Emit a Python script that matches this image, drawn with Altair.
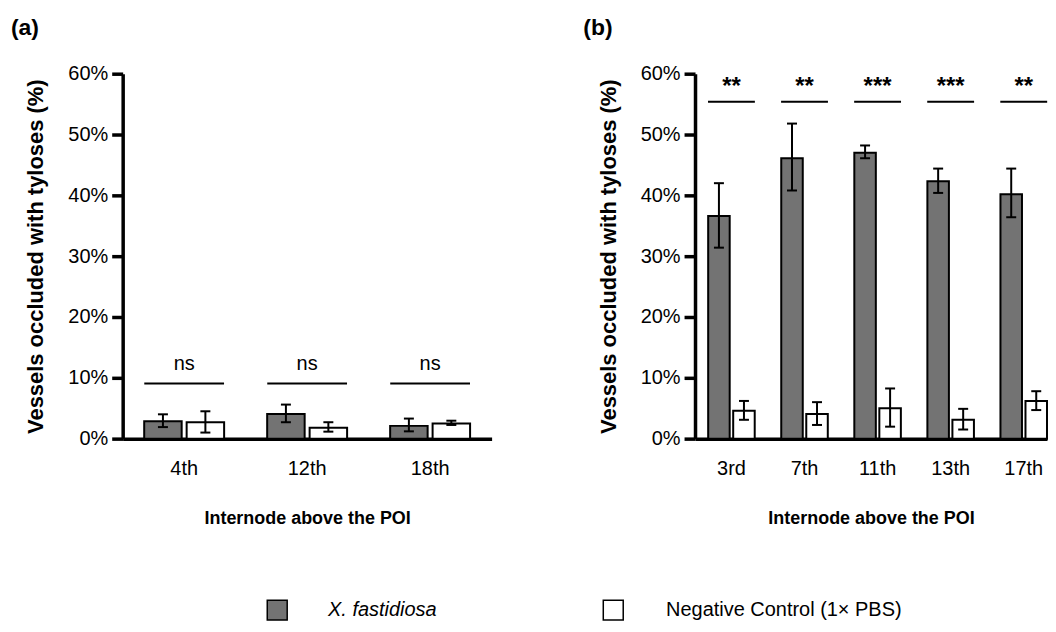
import altair as alt
import pandas as pd

# ---------------- data ----------------
series = ["X. fastidiosa", "Negative Control (1× PBS)"]
series_fill = ["#737373", "#ffffff"]

# Panel (a)
a_internodes = ["4th", "12th", "18th"]
a_xf_mean = [2.85, 4.05, 2.1]
a_xf_low = [1.9, 2.7, 1.2]
a_xf_high = [4.0, 5.6, 3.3]
a_ctrl_mean = [2.7, 1.8, 2.5]
a_ctrl_low = [1.0, 1.15, 2.25]
a_ctrl_high = [4.5, 2.7, 2.95]
a_sig = ["ns", "ns", "ns"]
a_sig_line = 9.05
a_sig_text = 11.3

# Panel (b)
b_internodes = ["3rd", "7th", "11th", "13th", "17th"]
b_xf_mean = [36.6, 46.1, 47.0, 42.3, 40.2]
b_xf_low = [31.4, 40.8, 46.1, 40.4, 36.4]
b_xf_high = [42.0, 51.8, 48.2, 44.4, 44.4]
b_ctrl_mean = [4.6, 4.05, 5.0, 3.1, 6.2]
b_ctrl_low = [3.1, 2.25, 1.97, 1.5, 4.7]
b_ctrl_high = [6.2, 6.0, 8.25, 4.9, 7.8]
b_sig = ["**", "**", "***", "***", "**"]
b_sig_line = 55.4
b_sig_text = 56.6

y_ticks = [0, 10, 20, 30, 40, 50, 60]

FONT = "Liberation Sans"


def long_table(internodes, xm, xl, xh, cm, cl, ch):
    rows = []
    for i, node in enumerate(internodes):
        rows.append({"internode": node, "series": series[0], "mean": xm[i], "low": xl[i], "high": xh[i]})
        rows.append({"internode": node, "series": series[1], "mean": cm[i], "low": cl[i], "high": ch[i]})
    return pd.DataFrame(rows)


def panel(internodes, table, sig, sig_line, sig_text, width, x_scale, off_pad,
          line_len, label, sig_size, sig_weight):
    sig_df = pd.DataFrame({
        "internode": internodes,
        "label": sig,
        "line": [sig_line] * len(internodes),
        "text_y": [sig_text] * len(internodes),
    })
    x = alt.X("internode:N", sort=internodes, scale=x_scale,
              axis=alt.Axis(title="Internode above the POI", labelAngle=0, ticks=False,
                            labelPadding=20, titlePadding=31, domainWidth=3.5,
                            domainColor="black", labelColor="black",
                            labelFontSize=20, titleFontSize=18, titleFontWeight="bold",
                            labelFont=FONT, titleFont=FONT, titleColor="black"))
    xo = alt.XOffset("series:N", sort=series,
                     scale=alt.Scale(paddingInner=off_pad, paddingOuter=0))
    yscale = alt.Scale(domain=[0, 60], nice=False)
    yaxis = alt.Axis(title="Vessels occluded with tyloses (%)", values=y_ticks,
                     labelExpr="datum.value + '%'", grid=False, domainWidth=3.5,
                     tickWidth=3.5, tickSize=11, labelPadding=4, domainColor="black",
                     tickColor="black", labelColor="black", labelFontSize=20,
                     titleFontSize=22, titleFontWeight="bold", titlePadding=20,
                     labelFont=FONT, titleFont=FONT, titleColor="black")
    base = alt.Chart(table)
    bars = base.mark_bar(stroke="black", strokeWidth=2).encode(
        x=x, xOffset=xo,
        y=alt.Y("mean:Q", scale=yscale, axis=yaxis),
        fill=alt.Fill("series:N", scale=alt.Scale(domain=series, range=series_fill), legend=None),
    )
    err = base.mark_rule(color="black", strokeWidth=2).encode(
        x=x, xOffset=xo, y="low:Q", y2="high:Q")
    cap_lo = base.mark_tick(color="black", thickness=2, size=10, opacity=1).encode(
        x=x, xOffset=xo, y="low:Q")
    cap_hi = base.mark_tick(color="black", thickness=2, size=10, opacity=1).encode(
        x=x, xOffset=xo, y="high:Q")
    sbase = alt.Chart(sig_df)
    line = sbase.mark_tick(color="black", thickness=2, size=line_len, opacity=1).encode(
        x=x, y="line:Q")
    txt = sbase.mark_text(fontSize=sig_size, fontWeight=sig_weight, font=FONT,
                          baseline="alphabetic", color="black").encode(
        x=x, y="text_y:Q", text="label:N")
    return alt.layer(bars, err, cap_lo, cap_hi, line, txt).properties(
        width=width, height=366,
        title=alt.TitleParams(label, anchor="start", fontSize=23, fontWeight="bold",
                              font=FONT, dx=-14, offset=24, color="black"),
    )


table_a = long_table(a_internodes, a_xf_mean, a_xf_low, a_xf_high,
                     a_ctrl_mean, a_ctrl_low, a_ctrl_high)
table_b = long_table(b_internodes, b_xf_mean, b_xf_low, b_xf_high,
                     b_ctrl_mean, b_ctrl_low, b_ctrl_high)

panel_a = panel(a_internodes, table_a, a_sig, a_sig_line, a_sig_text, 370,
                alt.Scale(paddingInner=0.35, paddingOuter=0.175), 0.117, 80,
                "(a)", 20, "normal")
panel_b = panel(b_internodes, table_b, b_sig, b_sig_line, b_sig_text, 353,
                alt.Scale(paddingInner=0.363, paddingOuter=0.09, align=1), 0.14, 47,
                "(b)", 24, "bold")

# ---------------- legend ----------------
legend_df = pd.DataFrame({"series": series})
lx = alt.X("series:N", sort=series, axis=None,
           scale=alt.Scale(type="point", range=[155, 492], padding=0))
lfill = alt.Fill("series:N", scale=alt.Scale(domain=series, range=series_fill), legend=None)
lbase = alt.Chart(legend_df)
leg_sq = lbase.mark_square(size=400, stroke="black", strokeWidth=1.5, opacity=1).encode(
    x=lx, fill=lfill)
leg_it = lbase.transform_filter(alt.datum.series == series[0]).mark_text(
    align="left", dx=51, fontSize=20, fontStyle="italic", font=FONT, color="black").encode(
    x=lx, text="series:N")
leg_rg = lbase.transform_filter(alt.datum.series == series[1]).mark_text(
    align="left", dx=53, fontSize=20, font=FONT, color="black").encode(
    x=lx, text="series:N")
legend = alt.layer(leg_sq, leg_it, leg_rg).properties(width=800, height=20)

chart = alt.vconcat(
    alt.hconcat(panel_a, panel_b, spacing=91).resolve_scale(xOffset="independent", x="independent"),
    legend,
    spacing=70,
).properties(
    padding={"left": 2, "top": 8, "right": 0, "bottom": 0},
    background="white",
).configure(font=FONT, view=alt.ViewConfig(stroke=None))

chart.save("out.html", embed_options={"renderer": "svg", "actions": False})
